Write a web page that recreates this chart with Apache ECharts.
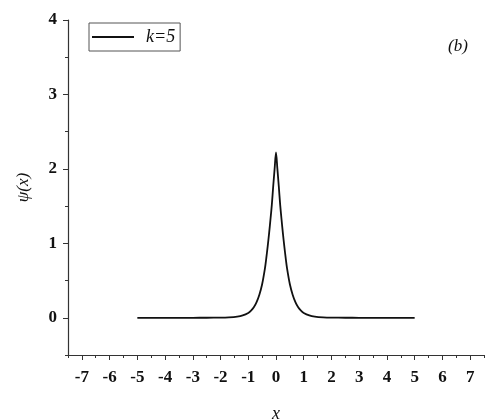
<!DOCTYPE html>
<html><head><meta charset="utf-8">
<script src="https://cdn.jsdelivr.net/npm/echarts@6/dist/echarts.min.js"></script>
<style>html,body{margin:0;padding:0;background:#fff}#c{width:489px;height:420px}</style>
</head><body><div id="c"></div>
<script>
const xValues = [-5, -4, -3, -2.5, -2, -1.7, -1.4, -1.2, -1.0, -0.9, -0.8, -0.7, -0.6, -0.5, -0.4, -0.35, -0.3, -0.25, -0.2, -0.15, -0.1, -0.05, 0,
                 0.05, 0.1, 0.15, 0.2, 0.25, 0.3, 0.35, 0.4, 0.5, 0.6, 0.7, 0.8, 0.9, 1.0, 1.2, 1.4, 1.7, 2, 2.5, 3, 4, 5];
const psiValues = [0, 0, 0, 0.0005, 0.002, 0.006, 0.016, 0.032, 0.065, 0.095, 0.14, 0.21, 0.31, 0.45, 0.66, 0.80, 0.96, 1.13, 1.32, 1.52, 1.77, 2.0, 2.22,
                   2.0, 1.77, 1.52, 1.32, 1.13, 0.96, 0.80, 0.66, 0.45, 0.31, 0.21, 0.14, 0.095, 0.065, 0.032, 0.016, 0.006, 0.002, 0.0005, 0, 0, 0];
const xTickLabels = [-7, -6, -5, -4, -3, -2, -1, 0, 1, 2, 3, 4, 5, 6, 7];
const xMinorTicks = [-7.5, -6.5, -5.5, -4.5, -3.5, -2.5, -1.5, -0.5, 0.5, 1.5, 2.5, 3.5, 4.5, 5.5, 6.5, 7.5];
const yTickLabels = [0, 1, 2, 3, 4];
const yMinorTicks = [-0.5, 0.5, 1.5, 2.5, 3.5];
const seriesName = 'k=5';

const serif = '"Liberation Serif", "DejaVu Serif", serif';
const axisColor = '#333';
const chart = echarts.init(document.getElementById('c'));
const baseX = {type: 'value', min: -7.5, max: 7.5, interval: 0.5, position: 'bottom', splitLine: {show: false}};
const baseY = {type: 'value', min: -0.5, max: 4, interval: 0.5, position: 'left', splitLine: {show: false}};
chart.setOption({
  animation: false,
  grid: {left: 68, right: 5, top: 20, bottom: 65, containLabel: false, outerBoundsMode: 'none'},
  legend: {
    left: 89, top: 23, padding: [5, 5, 5, 3], itemGap: 0,
    itemWidth: 42, itemHeight: 2, icon: 'rect',
    borderColor: '#555', borderWidth: 1,
    data: [seriesName],
    textStyle: {fontFamily: serif, fontStyle: 'italic', fontSize: 18, color: '#111', padding: [0, 0, 0, 7]}
  },
  graphic: [{type: 'text', left: 448, top: 38, style: {text: '(b)', font: 'italic 17px ' + serif, fill: '#111'}}],
  xAxis: [
    Object.assign({}, baseX, {
      name: 'x', nameLocation: 'middle', nameGap: 50,
      nameTextStyle: {fontFamily: serif, fontStyle: 'italic', fontSize: 18, color: '#111'},
      axisLine: {onZero: false, lineStyle: {color: axisColor, width: 1.2}},
      axisTick: {customValues: xTickLabels, length: 5, lineStyle: {color: axisColor}},
      axisLabel: {customValues: xTickLabels, margin: 14, fontFamily: serif, fontWeight: 'bold', fontSize: 17, color: '#111',
        formatter: v => String(v)}
    }),
    Object.assign({}, baseX, {
      axisLine: {show: false, onZero: false},
      axisTick: {customValues: xMinorTicks, length: 3, lineStyle: {color: axisColor}},
      axisLabel: {show: false}
    })
  ],
  yAxis: [
    Object.assign({}, baseY, {
      name: 'ψ(x)', nameLocation: 'middle', nameGap: 36,
      nameTextStyle: {fontFamily: serif, fontStyle: 'italic', fontSize: 17, color: '#111'},
      axisLine: {onZero: false, lineStyle: {color: axisColor, width: 1.2}},
      axisTick: {customValues: yTickLabels, length: 5, lineStyle: {color: axisColor}},
      axisLabel: {customValues: yTickLabels, margin: 11, fontFamily: serif, fontWeight: 'bold', fontSize: 17, color: '#111',
        formatter: v => String(v)}
    }),
    Object.assign({}, baseY, {
      axisLine: {show: false, onZero: false},
      axisTick: {customValues: yMinorTicks, length: 3, lineStyle: {color: axisColor}},
      axisLabel: {show: false}
    })
  ],
  series: [{
    name: seriesName, type: 'line', symbol: 'none', smooth: 0.3,
    lineStyle: {color: '#111', width: 1.8},
    itemStyle: {color: '#111'},
    data: xValues.map((x, i) => [x, psiValues[i]])
  }]
});
</script></body></html>
